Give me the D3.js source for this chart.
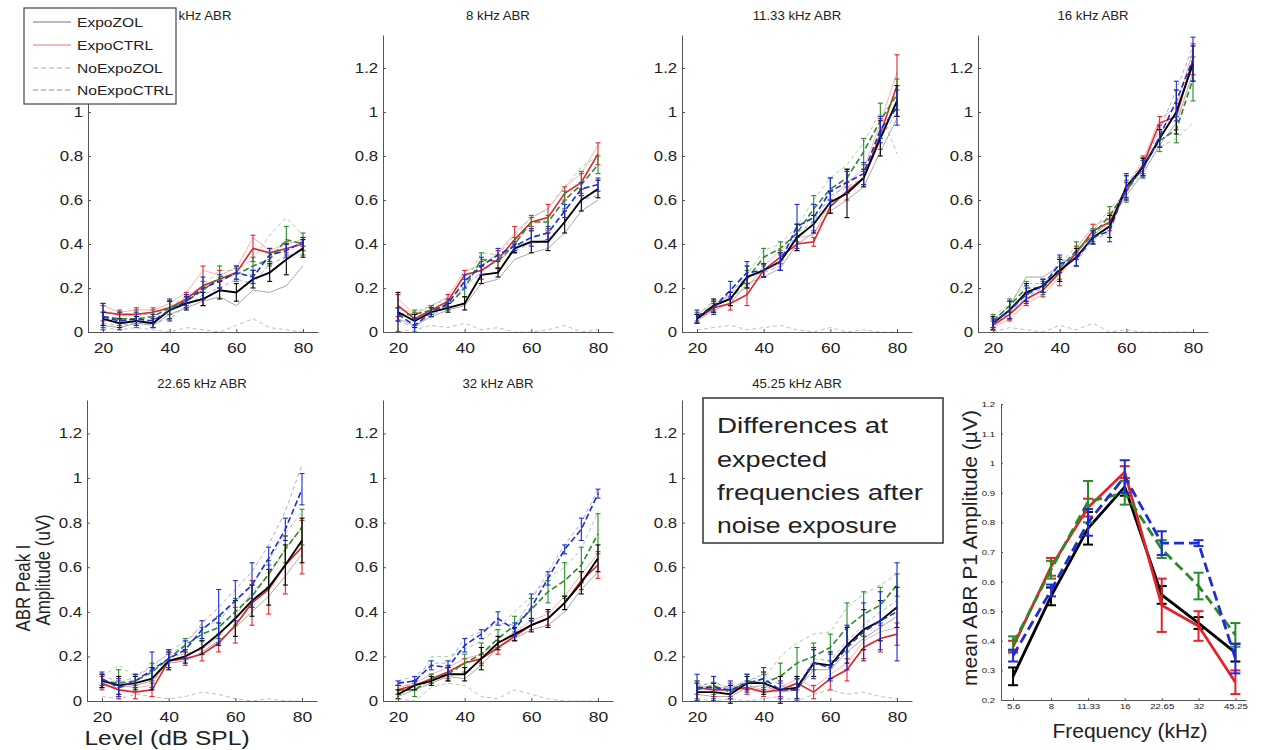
<!DOCTYPE html>
<html><head><meta charset="utf-8">
<script src="https://cdn.jsdelivr.net/npm/d3@7"></script>
<style>body{margin:0;background:#fff} text{font-family:"Liberation Sans",Arial,Helvetica,sans-serif;fill:#222}</style>
</head><body><svg id="c" width="1265" height="750"></svg>
<script>
// ---------------- DATA ----------------
const levels = [20,25,30,35,40,45,50,55,60,65,70,75,80];
const panelTitles = ["5.6 kHz ABR","8 kHz ABR","11.33 kHz ABR","16 kHz ABR","22.65 kHz ABR","32 kHz ABR","45.25 kHz ABR"];
const groups = ["ExpoZOL","ExpoCTRL","NoExpoZOL","NoExpoCTRL"];
const yTickVals = [0,0.2,0.4,0.6,0.8,1,1.2];
const yTickValsUnderLegend = [0,0.2,0.4,0.6,0.8,1];
const xTickVals = [20,40,60,80];

// group means per panel (rows = panels 5.6,8,11.33,16,22.65,32,45.25 kHz)
const meanExpoZOL = [
 [0.06,0.04,0.05,0.04,0.10,0.13,0.15,0.19,0.18,0.24,0.27,0.33,0.38],
 [0.09,0.05,0.09,0.11,0.13,0.26,0.27,0.38,0.41,0.41,0.50,0.60,0.65],
 [0.06,0.12,0.15,0.25,0.28,0.32,0.43,0.49,0.59,0.63,0.70,0.88,1.05],
 [0.04,0.10,0.18,0.21,0.28,0.34,0.43,0.48,0.66,0.75,0.88,1.00,1.22],
 [0.09,0.07,0.08,0.10,0.18,0.20,0.24,0.30,0.37,0.45,0.51,0.61,0.72],
 [0.03,0.07,0.09,0.12,0.12,0.19,0.26,0.30,0.34,0.37,0.44,0.53,0.64],
 [0.04,0.04,0.03,0.08,0.08,0.05,0.06,0.17,0.16,0.25,0.32,0.36,0.42]];
const meanExpoCTRL = [
 [0.09,0.08,0.08,0.09,0.11,0.15,0.21,0.24,0.27,0.38,0.36,0.38,0.40],
 [0.12,0.06,0.10,0.14,0.26,0.28,0.33,0.42,0.50,0.52,0.63,0.68,0.81],
 [0.06,0.11,0.13,0.17,0.28,0.34,0.40,0.41,0.57,0.64,0.70,0.90,1.12],
 [0.03,0.08,0.15,0.19,0.27,0.36,0.46,0.50,0.64,0.76,0.95,0.98,1.24],
 [0.08,0.05,0.04,0.05,0.18,0.19,0.21,0.26,0.34,0.44,0.50,0.61,0.69],
 [0.05,0.07,0.10,0.13,0.17,0.19,0.24,0.29,0.34,0.37,0.44,0.54,0.61],
 [0.06,0.05,0.05,0.06,0.04,0.05,0.08,0.04,0.10,0.14,0.24,0.28,0.30]];
const meanNoExpoZOL = [
 [0.07,0.06,0.06,0.07,0.11,0.14,0.19,0.25,0.26,0.30,0.33,0.42,0.40],
 [0.08,0.08,0.10,0.12,0.20,0.33,0.32,0.40,0.50,0.50,0.60,0.67,0.76],
 [0.07,0.12,0.15,0.24,0.34,0.38,0.45,0.56,0.65,0.70,0.82,0.96,1.08],
 [0.05,0.12,0.20,0.20,0.29,0.37,0.44,0.53,0.64,0.75,0.87,0.92,1.15],
 [0.09,0.08,0.09,0.13,0.19,0.25,0.30,0.33,0.40,0.47,0.57,0.68,0.78],
 [0.05,0.05,0.10,0.12,0.17,0.21,0.28,0.34,0.41,0.49,0.54,0.61,0.75],
 [0.05,0.07,0.04,0.09,0.08,0.11,0.17,0.20,0.24,0.33,0.39,0.43,0.52]];
const meanNoExpoCTRL = [
 [0.07,0.05,0.06,0.05,0.10,0.14,0.20,0.23,0.27,0.25,0.35,0.37,0.41],
 [0.08,0.03,0.09,0.13,0.23,0.30,0.35,0.39,0.43,0.45,0.55,0.65,0.67],
 [0.07,0.11,0.19,0.27,0.28,0.32,0.48,0.52,0.64,0.68,0.72,0.92,1.02],
 [0.04,0.10,0.17,0.21,0.31,0.33,0.43,0.46,0.66,0.74,0.89,1.05,1.24],
 [0.10,0.06,0.09,0.14,0.19,0.23,0.32,0.38,0.45,0.52,0.64,0.77,0.95],
 [0.08,0.09,0.16,0.15,0.25,0.30,0.37,0.32,0.42,0.55,0.68,0.77,0.93],
 [0.06,0.06,0.05,0.08,0.10,0.05,0.05,0.17,0.15,0.24,0.31,0.36,0.40]];

// standard errors per panel
const semExpoZOL = [
 [0.03,0.02,0.02,0.02,0.04,0.03,0.03,0.04,0.04,0.04,0.04,0.07,0.04],
 [0.09,0.03,0.02,0.02,0.03,0.04,0.02,0.02,0.05,0.04,0.05,0.05,0.04],
 [0.02,0.03,0.03,0.05,0.03,0.04,0.06,0.04,0.05,0.11,0.04,0.08,0.07],
 [0.03,0.04,0.04,0.03,0.05,0.04,0.03,0.05,0.05,0.04,0.04,0.10,0.08],
 [0.03,0.04,0.03,0.05,0.04,0.03,0.03,0.05,0.08,0.07,0.08,0.09,0.10],
 [0.02,0.02,0.02,0.03,0.03,0.05,0.03,0.03,0.03,0.04,0.03,0.05,0.06],
 [0.04,0.04,0.04,0.03,0.05,0.06,0.05,0.06,0.06,0.08,0.09,0.09,0.09]];
const semExpoCTRL = [
 [0.04,0.02,0.03,0.02,0.03,0.03,0.09,0.04,0.03,0.06,0.02,0.03,0.03],
 [0.05,0.03,0.02,0.03,0.02,0.04,0.04,0.06,0.02,0.06,0.03,0.05,0.05],
 [0.02,0.02,0.03,0.05,0.03,0.03,0.03,0.02,0.03,0.04,0.03,0.07,0.14],
 [0.02,0.03,0.03,0.03,0.06,0.03,0.03,0.04,0.04,0.04,0.03,0.06,0.07],
 [0.03,0.04,0.03,0.03,0.03,0.03,0.03,0.04,0.08,0.10,0.11,0.13,0.12],
 [0.02,0.02,0.02,0.03,0.02,0.02,0.03,0.02,0.02,0.03,0.03,0.04,0.06],
 [0.03,0.03,0.03,0.03,0.02,0.03,0.03,0.03,0.05,0.05,0.05,0.06,0.05]];
const semNoExpoZOL = [
 [0.05,0.03,0.04,0.03,0.03,0.03,0.04,0.05,0.03,0.04,0.03,0.06,0.05],
 [0.03,0.02,0.02,0.02,0.04,0.03,0.03,0.03,0.03,0.03,0.04,0.05,0.04],
 [0.02,0.02,0.03,0.04,0.04,0.03,0.04,0.06,0.05,0.04,0.06,0.08,0.07],
 [0.03,0.03,0.03,0.03,0.05,0.04,0.03,0.04,0.05,0.04,0.05,0.06,0.10],
 [0.03,0.06,0.03,0.04,0.04,0.03,0.03,0.05,0.06,0.05,0.06,0.06,0.08],
 [0.02,0.03,0.02,0.03,0.04,0.05,0.04,0.04,0.05,0.05,0.08,0.08,0.09],
 [0.04,0.04,0.03,0.03,0.04,0.06,0.07,0.06,0.06,0.11,0.10,0.08,0.05]];
const semNoExpoCTRL = [
 [0.06,0.04,0.03,0.03,0.05,0.03,0.05,0.03,0.03,0.03,0.03,0.03,0.02],
 [0.03,0.03,0.02,0.02,0.03,0.04,0.03,0.02,0.04,0.03,0.03,0.03,0.03],
 [0.03,0.03,0.04,0.05,0.03,0.04,0.10,0.06,0.06,0.05,0.05,0.06,0.08],
 [0.02,0.04,0.04,0.03,0.04,0.03,0.03,0.05,0.06,0.04,0.05,0.09,0.10],
 [0.03,0.04,0.03,0.08,0.04,0.04,0.04,0.12,0.09,0.10,0.05,0.05,0.07],
 [0.01,0.02,0.02,0.03,0.03,0.02,0.03,0.03,0.06,0.03,0.02,0.05,0.02],
 [0.06,0.05,0.04,0.04,0.05,0.04,0.05,0.07,0.06,0.10,0.13,0.13,0.22]];

// individual-animal traces (thin lines), one per group per panel
const indivExpoZOL = [
 [0.03,0.02,0.04,0.03,0.08,0.11,0.14,0.16,0.12,0.19,0.18,0.21,0.30],
 [0.06,0.03,0.07,0.10,0.12,0.22,0.24,0.33,0.36,0.38,0.45,0.55,0.60],
 [0.05,0.10,0.13,0.22,0.25,0.29,0.40,0.45,0.55,0.60,0.66,0.82,0.97],
 [0.05,0.12,0.25,0.25,0.30,0.36,0.44,0.50,0.62,0.72,0.85,0.95,1.18],
 [0.07,0.06,0.07,0.09,0.17,0.18,0.22,0.27,0.33,0.40,0.47,0.56,0.66],
 [0.02,0.05,0.08,0.11,0.10,0.16,0.24,0.28,0.32,0.34,0.40,0.50,0.58],
 [0.03,0.02,0.02,0.06,0.07,0.04,0.05,0.14,0.14,0.22,0.28,0.33,0.38]];
const indivExpoCTRL = [
 [0.12,0.09,0.10,0.10,0.13,0.18,0.28,0.26,0.29,0.43,0.37,0.40,0.42],
 [0.15,0.08,0.12,0.16,0.28,0.30,0.36,0.45,0.52,0.56,0.66,0.72,0.85],
 [0.08,0.13,0.16,0.20,0.30,0.37,0.43,0.44,0.60,0.68,0.74,0.95,1.18],
 [0.02,0.06,0.13,0.17,0.25,0.38,0.48,0.52,0.66,0.78,0.97,1.02,1.28],
 [0.10,0.07,0.06,0.07,0.20,0.21,0.23,0.29,0.38,0.49,0.56,0.68,0.78],
 [0.06,0.08,0.12,0.15,0.19,0.21,0.26,0.31,0.36,0.39,0.47,0.57,0.66],
 [0.07,0.06,0.06,0.07,0.05,0.06,0.10,0.06,0.12,0.17,0.27,0.31,0.33]];
const indivNoExpoZOL = [
 [0.10,0.07,0.08,0.08,0.12,0.16,0.21,0.28,0.28,0.33,0.44,0.52,0.44],
 [0.10,0.09,0.12,0.15,0.22,0.36,0.35,0.44,0.52,0.56,0.66,0.75,0.80],
 [0.08,0.14,0.17,0.26,0.37,0.40,0.48,0.60,0.70,0.76,0.86,1.00,0.81],
 [0.07,0.13,0.22,0.22,0.31,0.39,0.46,0.56,0.63,0.73,0.84,0.88,0.95],
 [0.11,0.16,0.11,0.15,0.22,0.27,0.33,0.36,0.44,0.52,0.63,0.75,0.85],
 [0.07,0.07,0.20,0.20,0.23,0.27,0.33,0.40,0.47,0.55,0.60,0.68,0.85],
 [0.06,0.09,0.05,0.10,0.10,0.20,0.26,0.30,0.31,0.42,0.48,0.52,0.57]];
const indivNoExpoCTRL = [
 [0.04,0.03,0.04,0.04,0.06,0.12,0.17,0.20,0.24,0.22,0.31,0.34,0.38],
 [0.05,0.02,0.08,0.11,0.21,0.27,0.33,0.37,0.40,0.42,0.50,0.60,0.62],
 [0.06,0.10,0.18,0.25,0.27,0.30,0.45,0.50,0.62,0.66,0.70,0.88,1.00],
 [0.03,0.09,0.16,0.20,0.33,0.32,0.42,0.45,0.68,0.76,0.92,1.10,1.30],
 [0.12,0.08,0.11,0.16,0.21,0.25,0.35,0.42,0.50,0.58,0.70,0.85,1.06],
 [0.09,0.11,0.17,0.17,0.28,0.31,0.35,0.34,0.45,0.58,0.70,0.80,0.95],
 [0.07,0.08,0.06,0.09,0.12,0.07,0.06,0.19,0.18,0.27,0.34,0.40,0.45]];
// near-zero noise-floor traces
const noiseTrace = [
 [0.02,0.01,0.02,0.01,0.00,0.02,0.01,0.00,0.03,0.06,0.02,0.01,0.00],
 [0.00,0.01,0.03,0.02,0.04,0.01,0.02,0.00,0.00,0.01,0.03,0.00,0.01],
 [0.01,0.02,0.03,0.01,0.02,0.03,0.01,0.00,0.02,0.00,0.01,0.00,0.00],
 [0.00,0.02,0.01,0.00,0.03,0.01,0.04,0.00,0.01,0.00,0.00,0.00,0.00],
 [0.02,0.01,0.03,0.02,0.01,0.02,0.04,0.03,0.01,0.00,0.01,0.00,0.00],
 [0.01,0.00,0.06,0.08,0.07,0.02,0.01,0.05,0.03,0.01,0.00,0.00,0.00],
 [0.01,0.00,0.01,0.00,0.01,0.02,0.00,0.03,0.05,0.03,0.04,0.02,0.01]];

// summary panel: mean ABR P1 amplitude vs frequency
const freqs = [5.6,8,11.33,16,22.65,32,45.25];
const freqLabels = ["5.6","8","11.33","16","22.65","32","45.25"];
const sumExpoZOL    = [0.28,0.55,0.78,0.92,0.555,0.46,0.36];
const sumExpoZOLErr = [0.03,0.03,0.055,0.03,0.03,0.02,0.03];
const sumExpoCTRL    = [0.38,0.65,0.85,0.97,0.52,0.45,0.26];
const sumExpoCTRLErr = [0.02,0.03,0.03,0.02,0.09,0.05,0.04];
const sumNoExpoZOL    = [0.39,0.64,0.87,0.90,0.71,0.585,0.42];
const sumNoExpoZOLErr = [0.025,0.03,0.07,0.04,0.03,0.045,0.04];
const sumNoExpoCTRL    = [0.35,0.57,0.80,0.955,0.73,0.73,0.34];
const sumNoExpoCTRLErr = [0.02,0.02,0.045,0.055,0.04,0.01,0.05];
const sumYTicks = [0.2,0.3,0.4,0.5,0.6,0.7,0.8,0.9,1,1.1,1.2];

// ---------------- STYLE / LAYOUT ----------------
const meanColor = {ExpoZOL:"#000000",ExpoCTRL:"#e3232a",NoExpoZOL:"#2a8a2a",NoExpoCTRL:"#1c2cd8"};
const indivColor = {ExpoZOL:"#8c8c8c",ExpoCTRL:"#f29a9a",NoExpoZOL:"#8fbf8f",NoExpoCTRL:"#8d8fd6"};
const legendColor = {ExpoZOL:"#777777",ExpoCTRL:"#f0a3a3",NoExpoZOL:"#aab5aa",NoExpoCTRL:"#8a8aa8"};
const dashed = {ExpoZOL:false,ExpoCTRL:false,NoExpoZOL:true,NoExpoCTRL:true};
const boxes = [
 {l:88,r:318,b:332,t:35},{l:383,r:613,b:332,t:35},{l:682,r:912,b:332,t:35},{l:978,r:1208,b:332,t:35},
 {l:87,r:317,b:701,t:400},{l:383,r:613,b:701,t:400},{l:682,r:912,b:701,t:400}];
const titleY = [20,20,20,20,388,388,388];
const titleShift = [-9,0,0,0,0,0,0];

const meansAll = {ExpoZOL:meanExpoZOL,ExpoCTRL:meanExpoCTRL,NoExpoZOL:meanNoExpoZOL,NoExpoCTRL:meanNoExpoCTRL};
const semsAll = {ExpoZOL:semExpoZOL,ExpoCTRL:semExpoCTRL,NoExpoZOL:semNoExpoZOL,NoExpoCTRL:semNoExpoCTRL};
const indivAll = {ExpoZOL:indivExpoZOL,ExpoCTRL:indivExpoCTRL,NoExpoZOL:indivNoExpoZOL,NoExpoCTRL:indivNoExpoCTRL};

const svg = d3.select("#c");
const AX = "#555";

function sText(g,x,y,str,size,sx,anchor,rot){
  return g.append("text")
    .attr("transform",`translate(${x},${y})`+(rot?` rotate(${rot})`:"")+` scale(${sx},1)`)
    .attr("text-anchor",anchor||"start").style("font-size",size+"px").text(str);
}
function styleAxis(g,sx,size){
  g.select(".domain").attr("stroke",AX);
  g.selectAll(".tick line").attr("stroke",AX);
  g.selectAll(".tick text").style("font-size",size+"px").attr("fill","#222")
   .attr("transform",`scale(${sx},1)`);
}

boxes.forEach((bx,i)=>{
  const x = d3.scaleLinear().domain([15.5,84.5]).range([bx.l,bx.r]);
  const y = d3.scaleLinear().domain([0,1.35]).range([bx.b,bx.t]);
  const g = svg.append("g");
  const line = d3.line().x((d,k)=>x(levels[k])).y(d=>y(d));

  g.append("path").datum(noiseTrace[i]).attr("d",line).attr("fill","none")
   .attr("stroke","#9a9a9a").attr("stroke-width",0.8).attr("stroke-dasharray","4,3").attr("opacity",0.8);
  groups.forEach(gr=>{
    g.append("path").datum(indivAll[gr][i]).attr("d",line).attr("fill","none")
     .attr("stroke",indivColor[gr]).attr("stroke-width",0.9).attr("opacity",0.85)
     .attr("stroke-dasharray",dashed[gr]?"4,3":null);
  });
  ["ExpoCTRL","NoExpoZOL","ExpoZOL","NoExpoCTRL"].forEach(gr=>{
    const m = meansAll[gr][i], s = semsAll[gr][i], c = meanColor[gr];
    const eb = g.append("g");
    m.forEach((v,k)=>{
      const xx = x(levels[k]);
      eb.append("line").attr("x1",xx).attr("x2",xx).attr("y1",y(v-s[k])).attr("y2",y(v+s[k]))
        .attr("stroke",c).attr("stroke-width",1.1);
      [v-s[k],v+s[k]].forEach(e=>eb.append("line").attr("x1",xx-2.5).attr("x2",xx+2.5)
        .attr("y1",y(e)).attr("y2",y(e)).attr("stroke",c).attr("stroke-width",1.1));
    });
    g.append("path").datum(m).attr("d",line).attr("fill","none").attr("stroke",c)
     .attr("stroke-width",gr==="ExpoZOL"?1.9:1.6).attr("stroke-dasharray",dashed[gr]?"6,3":null);
  });

  const ya = svg.append("g").attr("transform",`translate(${bx.l},0)`)
    .call(d3.axisLeft(y).tickValues(i===0?yTickValsUnderLegend:yTickVals).tickSizeInner(-3).tickSizeOuter(0).tickPadding(4)
      .tickFormat(d=>d3.format("")(+d.toFixed(1))));
  styleAxis(ya,1.2,14);
  const xa = svg.append("g").attr("transform",`translate(0,${bx.b})`)
    .call(d3.axisBottom(x).tickValues(xTickVals).tickSizeInner(-3).tickSizeOuter(0).tickPadding(11));
  styleAxis(xa,1.25,14);

  sText(svg,(bx.l+bx.r)/2+titleShift[i],titleY[i],panelTitles[i],12,1.1,"middle");
});

// axis labels for level panels
sText(svg,30,588,"ABR Peak I",21,0.8,"middle",-90);
sText(svg,50,570,"Amplitude (uV)",21,0.8,"middle",-90);
sText(svg,167,745,"Level (dB SPL)",21,1.17,"middle");

// legend
const lg = svg.append("g");
lg.append("rect").attr("x",24).attr("y",8).attr("width",152).attr("height",96)
  .attr("fill","#fff").attr("stroke","#444").attr("stroke-width",1.2);
const legY = [22,45,68,90];
groups.forEach((gr,k)=>{
  lg.append("line").attr("x1",33).attr("x2",71).attr("y1",legY[k]).attr("y2",legY[k])
    .attr("stroke",legendColor[gr]).attr("stroke-width",gr==="ExpoCTRL"?1.6:1.1)
    .attr("stroke-dasharray",dashed[gr]?"5,3":null);
  sText(lg,77,legY[k]+5,gr,13,1.2,"start");
});

// annotation box
const ab = svg.append("g");
ab.append("rect").attr("x",703).attr("y",398).attr("width",240).attr("height",145)
  .attr("fill","#fff").attr("stroke","#333").attr("stroke-width",1.5);
const boxLines = ["Differences at","expected","frequencies after","noise exposure"];
const boxLens = [171,110,206,180];
const boxBase = [433,467,500,533];
boxLines.forEach((s,k)=>{
  ab.append("text").attr("x",717).attr("y",boxBase[k]).style("font-size","22px")
    .attr("textLength",boxLens[k]).attr("lengthAdjust","spacingAndGlyphs").attr("fill","#111").text(s);
});

// summary panel
const sx = d3.scaleLog().base(2).domain([5,50]).range([1001,1246]);
const sy = d3.scaleLinear().domain([0.2,1.2]).range([700,404]);
const sg = svg.append("g");
const sumMeans = {ExpoZOL:sumExpoZOL,ExpoCTRL:sumExpoCTRL,NoExpoZOL:sumNoExpoZOL,NoExpoCTRL:sumNoExpoCTRL};
const sumErrs = {ExpoZOL:sumExpoZOLErr,ExpoCTRL:sumExpoCTRLErr,NoExpoZOL:sumNoExpoZOLErr,NoExpoCTRL:sumNoExpoCTRLErr};
const sline = d3.line().x((d,k)=>sx(freqs[k])).y(d=>sy(d));
groups.forEach(gr=>{
  const c = meanColor[gr], m = sumMeans[gr], e = sumErrs[gr];
  sg.append("path").datum(m).attr("d",sline).attr("fill","none").attr("stroke",c)
    .attr("stroke-width",2.8).attr("stroke-dasharray",dashed[gr]?"10,5":null);
  m.forEach((v,k)=>{
    const xx = sx(freqs[k]);
    sg.append("line").attr("x1",xx).attr("x2",xx).attr("y1",sy(v-e[k])).attr("y2",sy(v+e[k]))
      .attr("stroke",c).attr("stroke-width",2);
    [v-e[k],v+e[k]].forEach(w=>sg.append("line").attr("x1",xx-5).attr("x2",xx+5)
      .attr("y1",sy(w)).attr("y2",sy(w)).attr("stroke",c).attr("stroke-width",2));
  });
});
const sya = svg.append("g").attr("transform","translate(1001,0)")
  .call(d3.axisLeft(sy).tickValues(sumYTicks).tickSizeInner(-2).tickSizeOuter(0).tickPadding(5)
    .tickFormat(d=>d3.format("")(+d.toFixed(1))));
styleAxis(sya,1.2,8);
const sxa = svg.append("g").attr("transform","translate(0,700)")
  .call(d3.axisBottom(sx).tickValues(freqs).tickSizeInner(-2).tickSizeOuter(0).tickPadding(3)
    .tickFormat((d,k)=>freqLabels[k]));
styleAxis(sxa,1.2,8);
sText(svg,977,548,"mean ABR P1 Amplitude (\u00b5V)",21,1,"middle",-90);
sText(svg,1130,738,"Frequency (kHz)",21,1,"middle");
</script></body></html>
